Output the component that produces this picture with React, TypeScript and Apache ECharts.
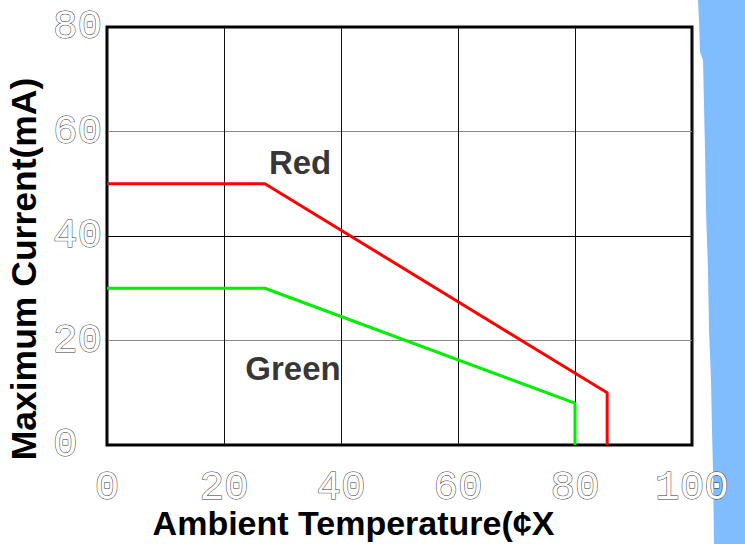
import React, { useEffect, useRef } from "react";
import * as echarts from "echarts";

const xTicks = [0, 20, 40, 60, 80, 100];
const yTicks = [0, 20, 40, 60, 80];
const redSeries: [number, number][] = [[0, 50], [27, 50], [85.5, 10], [85.5, 0]];
const greenSeries: [number, number][] = [[0, 30], [27, 30], [80, 8], [80, 0]];
const seriesLabels: [number, number, string][] = [[33, 54, "Red"], [31.8, 14.7, "Green"]];
const xTitle = "Ambient Temperature(¢X";
const yTitle = "Maximum Current(mA)";

export default function App() {
  const ref = useRef<HTMLDivElement>(null);
  useEffect(() => {
    if (!ref.current) return;
    const chart = echarts.init(ref.current, undefined, { renderer: "svg" });
    const tickLabel = {
      fontFamily: "Liberation Mono",
      fontSize: 41,
      color: "#ffffff",
      textBorderColor: "#333",
      textBorderWidth: 1,
    };
    chart.setOption({
      animation: false,
      backgroundColor: "#ffffff",
      graphic: [
        {
          type: "polygon",
          z: -10,
          shape: {
            points: [
              [698, 0], [745, 0], [745, 544], [714, 544], [713, 470], [712, 430],
              [711, 380], [709, 330], [708, 270], [706, 210], [705, 150], [703, 60], [700, 52], [699, 20],
            ],
          },
          style: { fill: "#7fbdff" },
        },
      ],
      grid: {
        left: 107, right: 53, top: 27, bottom: 99,
        outerBoundsMode: "none",
        containLabel: false,
        show: true, borderColor: "#000", borderWidth: 3, backgroundColor: "#fff",
      },
      xAxis: {
        type: "value", min: 0, max: 100, interval: 20,
        name: xTitle, nameLocation: "middle", nameGap: 60, nameMoveOverlap: false,
        nameTextStyle: {
          fontFamily: "Liberation Sans", fontWeight: "bold", fontSize: 34, color: "#000",
          padding: [0, 92, 0, 0], lineHeight: 36,
        },
        axisLine: { show: false }, axisTick: { show: false },
        axisLabel: { ...tickLabel, margin: 22, showMaxLabel: true },
        splitLine: { show: true, lineStyle: { color: "#111", width: 1 } },
      },
      yAxis: {
        type: "value", min: 0, max: 80, interval: 20,
        name: yTitle, nameLocation: "middle", nameGap: 60, nameRotate: 90,
        nameTextStyle: {
          fontFamily: "Liberation Sans", fontWeight: "bold", fontSize: 35.5, color: "#000",
          padding: [0, 66, 0, 0],
        },
        axisLine: { show: false }, axisTick: { show: false },
        axisLabel: { ...tickLabel, align: "left", margin: 54 },
        splitLine: { show: true, lineStyle: { color: ["#000", "#888", "#000", "#888", "#000"], width: 1 } },
      },
      series: [
        {
          type: "line", data: redSeries, symbol: "none",
          lineStyle: { color: "#ff0000", width: 3 }, z: 3,
        },
        {
          type: "line", data: greenSeries, symbol: "none",
          lineStyle: { color: "#00ee00", width: 3 }, z: 3,
        },
        {
          type: "scatter", data: seriesLabels, symbolSize: 0, silent: true,
          label: {
            show: true, position: [0, 0], align: "center", verticalAlign: "middle",
            formatter: (p: any) => p.data[2],
            fontFamily: "Liberation Sans", fontWeight: "bold", fontSize: 33,
            color: "#000",
          },
          z: 4,
        },
      ],
    });
    return () => chart.dispose();
  }, []);
  return <div ref={ref} style={{ width: 745, height: 544, position: "absolute", left: 0, top: 0 }} />;
}
